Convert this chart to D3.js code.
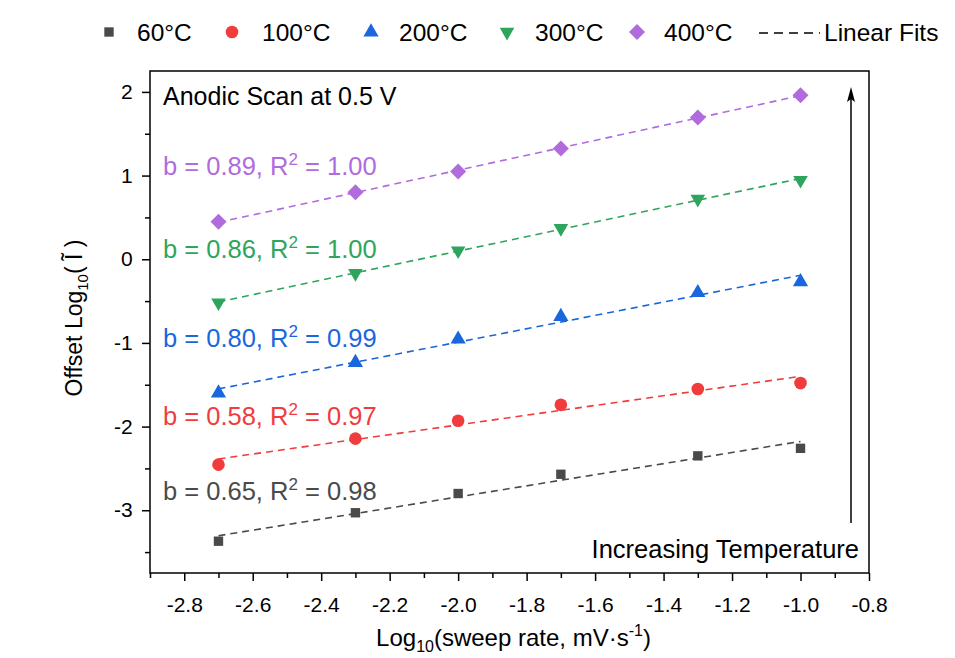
<!DOCTYPE html>
<html>
<head>
	<title> sweep rate </title>
	<script src="https://d3js.org/d3.v7.min.js"></script>
	<style>
		body { margin: 0; background: #fff; }
		text { font-family: Arial, "Liberation Sans", sans-serif; }
	</style>
</head>
<body>
	<svg width="955" height="658"></svg>
	<script type="text/javascript">
		// x values (log10 sweep rate) and series values
		const sweepLog = [-2.7, -2.3, -2.0, -1.7, -1.3, -1.0];
		const temps = ["60°C", "100°C", "200°C", "300°C", "400°C"];
		const s60  = [-3.37, -3.03, -2.80, -2.57, -2.35, -2.26];
		const s100 = [-2.455, -2.144, -1.93, -1.74, -1.55, -1.48];
		const s200 = [-1.60, -1.234, -0.955, -0.685, -0.40, -0.27];
		const s300 = [-0.518, -0.167, 0.103, 0.37, 0.72, 0.946];
		const s400 = [0.449, 0.80, 1.05, 1.325, 1.695, 1.96];
		const fitLabels = [["0.65", "0.98"], ["0.58", "0.97"], ["0.80", "0.99"], ["0.86", "1.00"], ["0.89", "1.00"]];
		const xTicks = [-2.8, -2.6, -2.4, -2.2, -2.0, -1.8, -1.6, -1.4, -1.2, -1.0, -0.8];
		const yTicks = [-3, -2, -1, 0, 1, 2];

		const series = [s60, s100, s200, s300, s400];
		const colors = ["#4a4a4a", "#f03c3c", "#1a66dd", "#2ea55c", "#b06cdc"];
		const symbols = [d3.symbolSquare, d3.symbolCircle, d3.symbolTriangle, d3.symbolTriangle, d3.symbolSquare];
		const symSize = [88, 125, 100, 92, 128];
		const symRot = [0, 0, 0, 180, 45];
		const labelBase = [500, 425, 347, 258, 175]; // baselines of fit labels (px)

		let svg = d3.select("svg");
		const L = 150, R = 869, T = 71, B = 573;
		let x = d3.scaleLinear().domain([-2.9, -0.8]).range([L, R]);
		let y = d3.scaleLinear().domain([-3.75, 2.25]).range([B, T]);

		// frame
		svg.append("rect").attr("x", L).attr("y", T).attr("width", R - L).attr("height", B - T)
			.attr("fill", "none").attr("stroke", "black").attr("stroke-width", 1.5);

		// axes
		let xAxis = d3.axisBottom(x).tickValues(xTicks).tickSize(8).tickSizeOuter(0);
		let gx = svg.append("g").attr("transform", "translate(0," + B + ")").call(xAxis);
		svg.append("g").attr("transform", "translate(0," + B + ")")
			.call(d3.axisBottom(x).tickValues([-2.9, -2.7, -2.5, -2.3, -2.1, -1.9, -1.7, -1.5, -1.3, -1.1, -0.9])
				.tickSize(5).tickSizeOuter(0).tickFormat(""));
		let gy = svg.append("g").attr("transform", "translate(" + L + ",0)")
			.call(d3.axisLeft(y).tickValues(yTicks).tickSize(8).tickSizeOuter(0));
		svg.append("g").attr("transform", "translate(" + L + ",0)")
			.call(d3.axisLeft(y).tickValues([-3.5, -2.5, -1.5, -0.5, 0.5, 1.5]).tickSize(5).tickSizeOuter(0).tickFormat(""));
		svg.selectAll(".domain").remove();
		svg.selectAll(".tick line").attr("stroke-width", 1.5);
		gx.selectAll("text").attr("font-size", 21).attr("dy", "1.35em").attr("fill", "black")
			.text(d => d3.format(".1f")(d).replace("−", "-"));
		gy.selectAll("text").attr("font-size", 21).attr("dx", "-0.3em").attr("fill", "black")
			.text(d => String(d).replace("−", "-"));

		// axis titles
		let xt = svg.append("text").attr("x", (L + R) / 2 + 4).attr("y", 646).attr("text-anchor", "middle").attr("font-size", 24);
		xt.append("tspan").text("Log");
		xt.append("tspan").attr("font-size", 16).attr("dy", 6).text("10");
		xt.append("tspan").attr("dy", -6).text("(sweep rate, mV·s");
		xt.append("tspan").attr("font-size", 16).attr("dy", -10).text("-1");
		xt.append("tspan").attr("dy", 10).text(")");

		let yt = svg.append("text").attr("transform", "translate(82," + ((T + B) / 2 - 4) + ") rotate(-90)")
			.attr("text-anchor", "middle").attr("font-size", 23);
		yt.append("tspan").text("Offset Log");
		yt.append("tspan").attr("font-size", 15).attr("dy", 6).text("10");
		yt.append("tspan").attr("dy", -6).text("( Ĩ )");

		// linear fits (least squares on each series)
		function fit(vals) {
			let mx = d3.mean(sweepLog), my = d3.mean(vals);
			let sxy = d3.sum(sweepLog, (v, i) => (v - mx) * (vals[i] - my));
			let sxx = d3.sum(sweepLog, v => (v - mx) * (v - mx));
			let b = sxy / sxx;
			return [[sweepLog[0], my + b * (sweepLog[0] - mx)], [sweepLog[5], my + b * (sweepLog[5] - mx)]];
		}
		let line = d3.line().x(d => x(d[0])).y(d => y(d[1]));
		series.forEach((s, k) => {
			svg.append("path").datum(fit(s)).attr("d", line)
				.attr("fill", "none").attr("stroke", colors[k]).attr("stroke-width", 1.6)
				.attr("stroke-dasharray", "7,5");
		});

		// markers
		series.forEach((s, k) => {
			svg.selectAll(".m" + k).data(s).enter().append("path")
				.attr("transform", (d, i) => "translate(" + x(sweepLog[i]) + "," + y(d) + ") rotate(" + symRot[k] + ")")
				.attr("d", d3.symbol().type(symbols[k]).size(symSize[k]))
				.attr("fill", colors[k]);
		});

		// fit labels
		fitLabels.forEach((f, k) => {
			let t = svg.append("text").attr("x", 163).attr("y", labelBase[k]).attr("font-size", 25.5).attr("fill", colors[k]);
			t.append("tspan").text("b = " + f[0] + ", R");
			t.append("tspan").attr("font-size", 17).attr("dy", -10).text("2");
			t.append("tspan").attr("dy", 10).text(" = " + f[1]);
		});

		svg.append("text").attr("x", 163).attr("y", 105).attr("font-size", 25).text("Anodic Scan at 0.5 V");
		svg.append("text").attr("x", 859).attr("y", 558).attr("text-anchor", "end").attr("font-size", 25.5).text("Increasing Temperature");

		// arrow
		svg.append("line").attr("x1", 851).attr("x2", 851).attr("y1", 523).attr("y2", 96)
			.attr("stroke", "black").attr("stroke-width", 1.5);
		svg.append("path").attr("d", "M851,87 L855,102 L851,99 L847,102 Z").attr("fill", "black");

		// legend
		let lx = [109, 232, 371, 507, 637];
		let tx = [137, 262, 399, 535, 664];
		let leg = svg.append("g");
		temps.forEach((t, k) => {
			leg.append("path")
				.attr("transform", "translate(" + lx[k] + ",32) rotate(" + symRot[k] + ")")
				.attr("d", d3.symbol().type(symbols[k]).size(symSize[k]))
				.attr("fill", colors[k]);
			leg.append("text").attr("x", tx[k]).attr("y", 41).attr("font-size", 24.5).text(t);
		});
		leg.append("line").attr("x1", 759).attr("x2", 820).attr("y1", 33).attr("y2", 33)
			.attr("stroke", "black").attr("stroke-width", 1.6).attr("stroke-dasharray", "9,6");
		leg.append("text").attr("x", 824).attr("y", 41).attr("font-size", 24.5).text("Linear Fits");
	</script>
</body>
</html>
